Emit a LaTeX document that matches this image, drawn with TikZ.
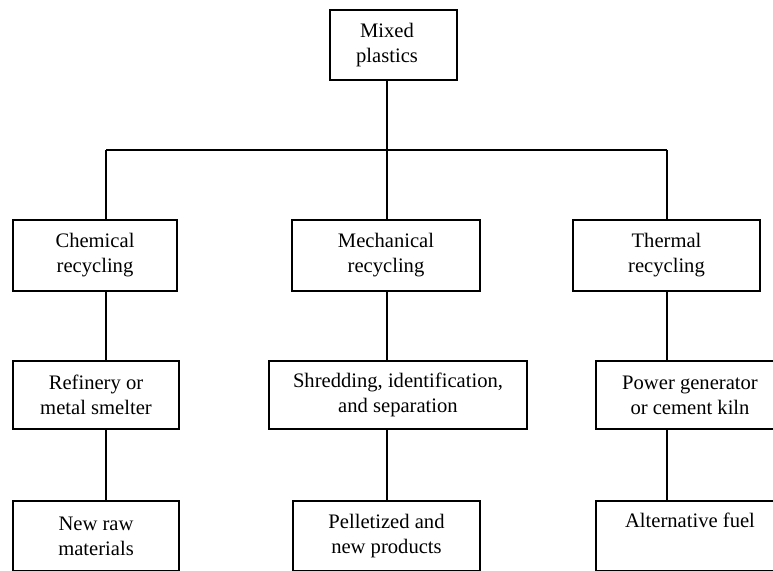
\documentclass[tikz,border=0pt]{standalone}
\usepackage{fontspec}
\setmainfont{Liberation Serif}
\usetikzlibrary{positioning, calc}
\tikzset{
  every picture/.style={line width=1.3pt, x=1pt, y=1pt},
  box/.style={draw, align=center, inner sep=0pt, minimum width=#1,
    font=\fontsize{20.6}{25}\selectfont},
  box/.default=160pt,
  row/.style={minimum height=#1},
  link/.style={draw, line width=1.3pt},
}

\begin{document}
\begin{tikzpicture}
  \useasboundingbox (0,0) rectangle (773,570);
  % source
  \node[box=127pt, row=70pt] (mix) at (393.5,525) {\hspace*{-13pt}Mixed\\\hspace*{-13pt}plastics};
  % routes
  \node[box=164pt, row=71pt] (chem) at (95,314.5) {Chemical\\recycling};
  \node[box=188pt, row=71pt] (mech) at (386,314.5) {Mechanical\\recycling};
  \node[box=187pt, row=71pt] (therm) at (666.5,314.5) {Thermal\\recycling};
  % processes
  \node[box=166pt, row=68pt] (refin) at (96,175) {Refinery or\\metal smelter};
  \node[box=258pt, row=68pt] (shred) at (398,175) {Shredding, identification,\\and separation};
  \node[box=188pt, row=68pt] (power) at (690,175) {Power generator\\or cement kiln};
  % outputs
  \node[box=166pt, row=70pt] (raw) at (96,34) {New raw\\materials};
  \node[box=187pt, row=70pt] (pellet) at (386.5,34) {Pelletized and\\new products};
  \node[box=188pt, row=70pt] (fuel) at (690,34) {Alternative fuel\\\strut};
  % bus
  \coordinate (busL) at (106,420);
  \coordinate (busM) at (387,420);
  \coordinate (busR) at (667,420);
  \draw[link] (mix.south -| busM) -- (busM);
  \draw[link] (busL) -- (busR);
  \draw[link] (busL) -- (chem.north -| busL);
  \draw[link] (busM) -- (mech.north -| busM);
  \draw[link] (busR) -- (therm.north -| busR);
  % columns
  \draw[link] (chem.south -| busL) -- (refin.north -| busL);
  \draw[link] (refin.south -| busL) -- (raw.north -| busL);
  \draw[link] (mech.south -| busM) -- (shred.north -| busM);
  \draw[link] (shred.south -| busM) -- (pellet.north -| busM);
  \draw[link] (therm.south -| busR) -- (power.north -| busR);
  \draw[link] (power.south -| busR) -- (fuel.north -| busR);
\end{tikzpicture}
\end{document}
